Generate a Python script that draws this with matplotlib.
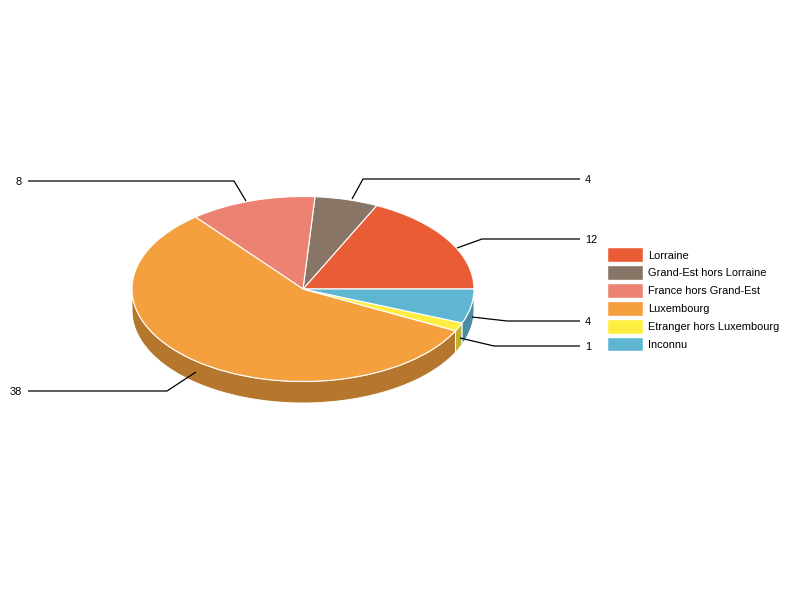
import matplotlib
matplotlib.use('Agg')
import matplotlib.pyplot as plt
import numpy as np
from matplotlib.patches import Patch

plt.rcParams['font.family'] = ['Liberation Sans', 'DejaVu Sans']

categories = ['Lorraine', 'Grand-Est hors Lorraine', 'France hors Grand-Est',
              'Luxembourg', 'Etranger hors Luxembourg', 'Inconnu']
values = [12, 4, 8, 38, 1, 4]
colors = ['#E95C35', '#887566', '#EC8272', '#F4A03F', '#FFEE40', '#5FB6D3']
side_colors = ['#B0472A', '#68594D', '#B36256', '#B5772E', '#BFB22F', '#4A8CA3']

# pie geometry in pixels
cx, cy = 303, 289
rx, ry = 171, 92.5
depth = 21.5 / ry

# leader lines: start, elbow, end (pixels)
leaders = [
    [(457, 248), (482, 239), (580, 239)],
    [(352, 199), (363, 179), (580, 179)],
    [(246, 201), (234, 181), (28, 181)],
    [(196, 372), (167, 391), (28, 391)],
    [(460, 338), (494, 346), (580, 346)],
    [(472, 317), (507, 321), (580, 321)],
]

fig = plt.figure(figsize=(8, 6), dpi=100)
ax = fig.add_axes([0, 0, 1, 1])

ends = np.cumsum(values) / sum(values) * 360
starts = np.r_[0, ends[:-1]]

# side wall, only the part that faces the viewer (180-360 deg)
for a, b, c in zip(starts, ends, side_colors):
    lo, hi = max(a, 180), min(b, 360)
    if hi <= lo:
        continue
    t = np.radians(np.linspace(lo, hi, 80))
    xs = np.r_[np.cos(t), np.cos(t)[::-1]]
    ys = np.r_[np.sin(t), np.sin(t)[::-1] - depth]
    ax.fill(xs, ys, facecolor=c, edgecolor='white', linewidth=0.7, zorder=1)

ax.pie(values, colors=colors, startangle=0, counterclock=True,
       wedgeprops={'edgecolor': 'white', 'linewidth': 0.8, 'zorder': 2})
ax.set_aspect('auto')
ax.set_xlim((0 - cx) / rx, (800 - cx) / rx)
ax.set_ylim((cy - 600) / ry, (cy - 0) / ry)
ax.axis('off')

# overlay in pixel coordinates for leaders, labels, legend
over = fig.add_axes([0, 0, 1, 1], zorder=5)
over.set_xlim(0, 800)
over.set_ylim(600, 0)
over.axis('off')

for v, pts in zip(values, leaders):
    xs, ys = zip(*pts)
    over.plot(xs, ys, color='black', linewidth=0.9, solid_capstyle='butt')
    if xs[-1] > xs[0]:
        over.text(585, ys[-1] + 1, str(v), ha='left', va='center', fontsize=7.9)
    else:
        over.text(22, ys[-1] + 1, str(v), ha='right', va='center', fontsize=7.9)

handles = [Patch(facecolor=c, edgecolor='white', linewidth=0.3) for c in colors]
over.legend(handles, categories, loc='upper left', bbox_to_anchor=(608, 248),
            bbox_transform=over.transData, frameon=False, fontsize=7.9,
            borderpad=0, borderaxespad=0, handlelength=3.18, handleheight=1.58,
            handletextpad=0.5, labelspacing=0.36)

fig.savefig('out.png', dpi=100, facecolor='white')
